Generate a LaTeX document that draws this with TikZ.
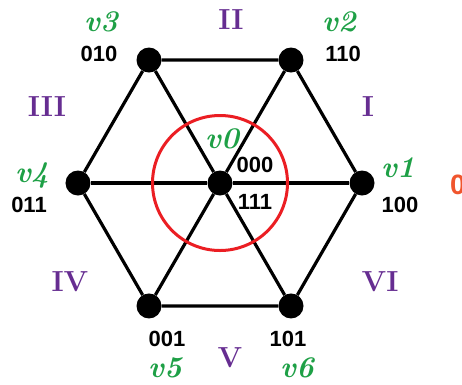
\documentclass[tikz,border=0pt]{standalone}
\usepackage{xcolor}
\usepackage{fontspec}
\usepackage{tikz}
\usetikzlibrary{positioning}
\newfontfamily\bitfont{Liberation Sans}
\definecolor{sectpurple}{RGB}{102,45,145}
\definecolor{vecgreen}{RGB}{30,160,70}
\definecolor{ringred}{RGB}{235,30,35}
\definecolor{zerored}{RGB}{240,85,45}

\begin{document}
\begin{tikzpicture}[
  x=1pt, y=1pt,
  vertex/.style={circle, fill=black, inner sep=0pt, minimum size=25pt},
  edge/.style={line width=3.2pt},
  bits/.style={font=\bitfont\fontsize{22}{22}\selectfont\bfseries},
  vec/.style={text=vecgreen, font=\fontsize{30}{30}\selectfont\bfseries\itshape},
  sector/.style={text=sectpurple, font=\fontsize{29}{29}\selectfont\bfseries}
]
  \useasboundingbox (-220,-201) rectangle (242,183);

  % switching states
  \node[vertex] (v0) at (0,0) {};
  \node[vertex] (v1) at (0:142) {};
  \node[vertex] (v2) at (60:142) {};
  \node[vertex] (v3) at (120:142) {};
  \node[vertex] (v4) at (180:142) {};
  \node[vertex] (v5) at (240:142) {};
  \node[vertex] (v6) at (300:142) {};

  \draw[edge] (v1) -- (v2) -- (v3) -- (v4) -- (v5) -- (v6) -- (v1);
  \draw[edge] (v1) -- (v0) -- (v4);
  \draw[edge] (v2) -- (v0) -- (v5);
  \draw[edge] (v3) -- (v0) -- (v6);
  \draw[ringred, line width=3pt] (v0.center) circle (67.5);

  % vector names
  \node[vec] (n0) at (2,44) {v0};
  \node[vec] (n1) at (178,15) {v1};
  \node[vec] (n2) at (119,161) {v2};
  \node[vec] (n3) at (-119,161) {v3};
  \node[vec] (n4) at (-188,8) {v4};
  \node[vec] (n5) at (-55,-185) {v5};
  \node[vec] (n6) at (77,-185) {v6};

  % switch codes
  \node[bits] (b0) at (35,18) {000};
  \node[bits] (b7) at (35,-19) {111};
  \node[bits] (b1) at (180,-22) {100};
  \node[bits] (b2) at (123,129) {110};
  \node[bits] (b3) at (-121,129) {010};
  \node[bits] (b4) at (-191,-22) {011};
  \node[bits] (b5) at (-53,-156) {001};
  \node[bits] (b6) at (68,-156) {101};

  % sectors
  \node[sector] (s1) at (148,76) {I};
  \node[sector] (s2) at (11,163) {II};
  \node[sector] (s3) at (-173,76) {III};
  \node[sector] (s4) at (-150,-99) {IV};
  \node[sector] (s5) at (10,-175) {V};
  \node[sector] (s6) at (160,-99) {VI};

  \node[text=zerored, font=\bitfont\fontsize{28}{28}\selectfont\bfseries] (zero) at (238,-2) {0};
\end{tikzpicture}
\end{document}
